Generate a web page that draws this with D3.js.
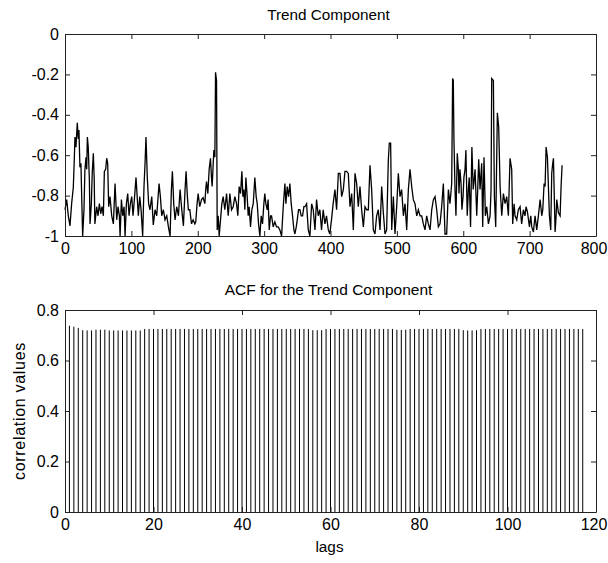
<!DOCTYPE html>
<html><head><meta charset="utf-8">
<script src="https://cdn.jsdelivr.net/npm/d3@7"></script>
<style>
html,body{margin:0;padding:0;background:#fff;}
svg{display:block;}
text{font-family:"Liberation Sans",Arial,sans-serif;fill:#000;}
</style></head>
<body>
<svg id="chart" width="608" height="563"></svg>
<script>
// ---------- DATA ----------
const trendTitle = "Trend Component";
const acfTitle = "ACF for the Trend Component";
const acfXLabel = "lags";
const acfYLabel = "correlation values";

const trendXTicks = [0,100,200,300,400,500,600,700,800];
const trendXTickLabels = ["0","100","200","300","400","500","600","700","800"];
const trendYTicks = [0,-0.2,-0.4,-0.6,-0.8,-1];
const trendYTickLabels = ["0","-0.2","-0.4","-0.6","-0.8","-1"];

const acfXTicks = [0,20,40,60,80,100,120];
const acfXTickLabels = ["0","20","40","60","80","100","120"];
const acfYTicks = [0,0.2,0.4,0.6,0.8];
const acfYTickLabels = ["0","0.2","0.4","0.6","0.8"];

// trend component: [sample index, value]
const trendSeries = [
[0,-0.87],[2.5,-0.82],[5,-0.90],[7.5,-0.95],[10,-0.84],[12.5,-0.76],[14,-0.62],[15,-0.51],[16.5,-0.56],[18.5,-0.44],
[20,-0.52],[21,-0.475],[22.5,-0.66],[24,-0.64],[25.5,-0.85],[26.6,-1.0],[28.6,-0.87],[30,-0.67],[31.7,-0.61],[32.7,-0.67],
[33.7,-0.51],[35,-0.56],[36.7,-0.72],[37.7,-0.94],[39.7,-0.84],[41,-0.69],[42.7,-0.59],[44,-0.72],[45,-0.94],[47.7,-0.855],
[49.7,-0.90],[51.8,-0.84],[53.8,-0.89],[55.8,-0.855],[57.8,-0.90],[59.3,-0.68],[61.3,-0.67],[62.8,-0.615],[64.3,-0.64],[65.8,-0.855],
[67.8,-0.805],[70.4,-0.90],[72.9,-0.94],[75.4,-0.74],[77.9,-0.92],[79.9,-0.855],[81.9,-0.90],[83,-1.0],[85,-0.82],[87,-0.90],
[89,-0.855],[90.5,-1.0],[92.5,-0.84],[94.5,-0.79],[96.5,-0.90],[98.5,-0.84],[100.5,-0.805],[102.5,-0.90],[104.5,-0.82],[107,-0.71],
[109,-0.82],[110.5,-0.90],[112.6,-0.805],[114.6,-0.87],[117,-1.0],[119,-0.755],[120.6,-0.64],[122,-0.51],[123,-0.61],[124,-0.71],
[126,-0.84],[128,-0.87],[130.7,-0.805],[133,-0.945],[135.7,-0.87],[138.2,-0.90],[141.7,-0.74],[143.7,-0.805],[145.7,-0.90],[148.2,-0.87],
[150.7,-0.92],[153.3,-0.90],[155.8,-0.955],[158.3,-1.0],[160.3,-0.77],[161.8,-0.68],[163.8,-0.84],[165.8,-0.92],[168.3,-0.855],[170.9,-0.90],
[173.4,-0.77],[175.9,-0.87],[178.4,-0.95],[180.9,-0.77],[182.4,-0.68],[184.4,-0.805],[185.9,-0.87],[188,-0.87],[190.6,-0.94],[193,-0.92],
[195.6,-0.94],[197,-0.93],[199,-0.84],[200.6,-0.79],[203,-0.855],[205.7,-0.82],[208,-0.81],[210.7,-0.84],[212,-0.77],[213.2,-0.73],
[215.2,-0.79],[217.2,-0.67],[219.2,-0.615],[220.7,-0.71],[221.7,-0.755],[223.3,-0.64],[224.3,-0.575],[225.8,-0.61],[226.8,-0.19],[228.3,-0.23],
[229.3,-0.97],[230.8,-0.90],[232.3,-1.0],[234.3,-0.92],[236.3,-0.84],[238.3,-0.805],[240.8,-0.87],[243.4,-0.79],[245.9,-0.90],[248.4,-0.79],
[250.9,-0.87],[253.4,-0.855],[255.9,-0.805],[258.4,-0.84],[260.4,-0.90],[262.4,-0.755],[264.5,-0.79],[266.5,-0.68],[268,-0.805],[269.5,-0.77],
[271,-0.87],[272.5,-0.71],[274.5,-0.805],[276,-0.90],[277.5,-0.855],[279.5,-0.955],[281.5,-0.87],[283.6,-0.84],[286,-0.71],[288,-0.805],
[289.6,-0.84],[291.6,-0.94],[293.6,-1.0],[295.6,-0.90],[297.6,-0.94],[299.6,-0.84],[301,-0.79],[302.6,-0.84],[304.7,-0.87],[306,-0.82],
[307.7,-0.97],[309.7,-0.90],[311.2,-0.90],[313.7,-0.955],[316.2,-0.93],[318.7,-0.955],[321.2,-0.955],[323.7,-0.97],[326.3,-1.0],[328.8,-0.855],
[331.3,-0.74],[332.8,-0.84],[334.8,-0.755],[336.8,-0.805],[338.8,-0.74],[340.8,-0.84],[342.8,-0.90],[344.9,-0.97],[346.4,-0.99],[348.4,-0.955],
[349.9,-0.92],[351.9,-0.87],[353.9,-0.87],[355.9,-0.90],[357.9,-0.90],[359.9,-0.855],[361.4,-0.855],[364,-0.84],[366.5,-0.97],[369,-1.0],
[371.6,-0.84],[374,-0.87],[376.6,-0.97],[379,-0.82],[381.5,-0.90],[384,-0.87],[386.5,-0.97],[389,-0.87],[391.6,-0.94],[394,-0.90],
[396.7,-0.97],[399,-0.99],[401.5,-0.92],[404,-0.84],[406.7,-0.77],[409.2,-0.87],[411.8,-0.69],[414.3,-0.69],[416.8,-0.805],[419.3,-0.77],
[421.8,-0.68],[424.3,-0.68],[426.8,-0.69],[429.4,-0.855],[431.9,-0.79],[434.4,-0.97],[436.9,-0.69],[439.4,-0.74],[441.9,-0.855],[444.4,-0.755],
[446.9,-0.87],[449.5,-0.955],[452,-0.855],[454.5,-0.87],[457,-0.87],[459.5,-0.65],[462,-0.77],[464.5,-0.97],[467,-0.99],[469.5,-0.90],
[472,-0.87],[474.6,-0.97],[477.1,-0.755],[479.6,-0.885],[482.1,-0.99],[484.6,-0.97],[487.1,-0.625],[488.6,-0.54],[490.6,-0.54],[492.2,-0.97],
[494.7,-0.805],[497.2,-0.99],[499.7,-0.855],[502.2,-0.69],[504.7,-0.805],[507.2,-0.77],[509.8,-0.90],[512.3,-0.84],[514.8,-0.97],[517.3,-0.77],
[519.8,-0.67],[522.3,-0.755],[524.8,-0.82],[527.3,-0.84],[529.9,-0.90],[532.4,-0.87],[534.9,-0.90],[537.4,-0.90],[539.9,-0.94],[542.4,-0.97],
[544.9,-0.90],[547.4,-0.94],[550,-0.97],[552.5,-0.87],[555,-0.82],[557.5,-0.805],[560,-0.87],[562.5,-0.955],[565,-0.94],[567.5,-0.855],
[570,-0.74],[572.5,-0.99],[575,-0.99],[577.6,-0.77],[580,-0.84],[582.6,-0.74],[584,-0.22],[585,-0.23],[586,-0.525],[587.6,-0.77],
[589,-0.90],[591,-0.59],[592.6,-0.67],[593.6,-0.79],[595,-0.67],[596.7,-0.74],[598,-0.87],[599.7,-0.805],[601,-0.71],[602.7,-0.67],
[604,-0.575],[606,-0.90],[607.7,-0.77],[609,-0.71],[611,-0.955],[613,-0.56],[615,-0.77],[616.8,-0.71],[617.8,-0.67],[620.3,-0.90],
[621.8,-0.77],[623.3,-0.62],[625.3,-0.77],[627.8,-0.64],[629.3,-0.955],[631.3,-0.61],[633.3,-0.90],[635.4,-0.855],[637.9,-0.94],[640.4,-0.90],
[641.9,-0.77],[642.9,-0.22],[645.4,-0.23],[646.9,-0.805],[648.9,-0.955],[651.4,-0.39],[653.4,-0.46],[655.5,-0.755],[658,-0.90],[660.5,-0.79],
[663,-0.84],[665.5,-0.805],[668,-0.90],[670.5,-0.615],[673,-0.67],[674.5,-0.94],[676.6,-0.84],[678,-0.90],[680.6,-0.92],[683,-0.87],
[685.6,-0.855],[688,-0.94],[690.6,-0.87],[693,-0.90],[694.6,-0.855],[696.7,-0.88],[699.7,-0.955],[701.7,-0.90],[703.2,-0.955],[705.7,-0.98],
[708.2,-0.90],[710.7,-0.97],[713.2,-0.90],[715.8,-0.82],[718.3,-0.90],[719.8,-0.87],[721.8,-0.74],[723.3,-0.755],[724.8,-0.56],[726.8,-0.61],
[728.3,-0.755],[729.8,-0.90],[731.8,-0.97],[733.3,-0.69],[734.8,-0.64],[735.9,-0.615],[737.4,-0.84],[738.4,-0.98],[739.9,-0.90],[740.9,-0.82],
[743.4,-0.885],[745.9,-0.90],[747.4,-0.755],[748.9,-0.65]
];

// ACF values for lags 1..117
const acfLags = d3.range(1, 118);
const acfValues = [
0.738,0.734,0.729,0.720,0.719,0.719,0.722,0.722,0.722,0.719,
0.719,0.719,0.719,0.719,0.719,0.719,0.719,0.725,0.725,0.725,
0.725,0.725,0.725,0.725,0.725,0.725,0.725,0.725,0.725,0.725,
0.725,0.725,0.725,0.725,0.725,0.725,0.725,0.725,0.725,0.725,
0.725,0.725,0.725,0.725,0.725,0.725,0.725,0.725,0.725,0.725,
0.725,0.725,0.725,0.725,0.725,0.720,0.720,0.720,0.725,0.725,
0.725,0.725,0.725,0.725,0.725,0.725,0.725,0.725,0.725,0.725,
0.725,0.725,0.725,0.725,0.722,0.721,0.722,0.725,0.725,0.725,
0.725,0.725,0.725,0.725,0.725,0.725,0.725,0.725,0.725,0.720,
0.719,0.719,0.720,0.725,0.725,0.725,0.725,0.725,0.725,0.725,
0.725,0.725,0.725,0.725,0.725,0.725,0.725,0.725,0.725,0.725,
0.725,0.725,0.725,0.725,0.725,0.725,0.725
];

// ---------- LAYOUT ----------
const W = 608;
const svg = d3.select("#chart");
const L = 65, R = 596;
const top1 = 34, bot1 = 236;
const top2 = 310, bot2 = 512;
const tickLen = 5;
const axisColor = "#222";

function boxAxes(g, x, y, xt, xl, yt, yl, t, b) {
  // inward ticks on four sides using d3 axes
  const gx = g.append("g").attr("transform", `translate(0,${b})`)
    .call(d3.axisBottom(x).tickValues(xt).tickFormat((d,i)=>xl[i]).tickSizeInner(-tickLen).tickSizeOuter(0).tickPadding(7));
  g.append("g").attr("transform", `translate(0,${t})`)
    .call(d3.axisTop(x).tickValues(xt).tickFormat("").tickSizeInner(-tickLen).tickSizeOuter(0));
  g.append("g").attr("transform", `translate(${L},0)`)
    .call(d3.axisLeft(y).tickValues(yt).tickFormat((d,i)=>yl[i]).tickSizeInner(-tickLen).tickSizeOuter(0).tickPadding(6));
  g.append("g").attr("transform", `translate(${R},0)`)
    .call(d3.axisRight(y).tickValues(yt).tickFormat("").tickSizeInner(-tickLen).tickSizeOuter(0));
  g.selectAll(".domain").attr("stroke", axisColor);
  g.selectAll(".tick line").attr("stroke", axisColor);
  g.selectAll(".tick text").attr("font-size", 16).attr("font-family", '"Liberation Sans",Arial,sans-serif').attr("fill","#000");
  // keep the last x label inside the picture
  gx.selectAll(".tick").each(function(d) {
    const tx = d3.select(this).select("text");
    const bb = tx.node().getBBox();
    const right = x(d) + bb.x + bb.width;
    if (right > W - 1) tx.attr("dx", (W - 1 - right) + "px");
  });
}

// ---------- TOP: trend component ----------
const x1 = d3.scaleLinear().domain([0, 800]).range([L, R]);
const y1 = d3.scaleLinear().domain([-1, 0]).range([bot1, top1]);
const g1 = svg.append("g");
g1.append("path").datum(trendSeries)
  .attr("fill","none").attr("stroke","#000").attr("stroke-width",1.3).attr("stroke-linejoin","miter")
  .attr("d", d3.line().x(d=>x1(d[0])).y(d=>y1(d[1])));
boxAxes(g1, x1, y1, trendXTicks, trendXTickLabels, trendYTicks, trendYTickLabels, top1, bot1);
g1.append("text").attr("x", (L+R)/2 - 2).attr("y", 20).attr("text-anchor","middle").attr("font-size",15.3).text(trendTitle);

// ---------- BOTTOM: ACF ----------
const x2 = d3.scaleLinear().domain([0, 120]).range([L, R]);
const y2 = d3.scaleLinear().domain([0, 0.8]).range([bot2, top2]);
const g2 = svg.append("g");
g2.selectAll("line.stem").data(acfLags).enter().append("line").attr("class","stem")
  .attr("x1", d=>x2(d)).attr("x2", d=>x2(d))
  .attr("y1", y2(0)).attr("y2", (d,i)=>y2(acfValues[i]))
  .attr("stroke","#000").attr("stroke-width",1);
boxAxes(g2, x2, y2, acfXTicks, acfXTickLabels, acfYTicks, acfYTickLabels, top2, bot2);
g2.append("text").attr("x", (L+R)/2 - 2).attr("y", 295).attr("text-anchor","middle").attr("font-size",15.5).text(acfTitle);
g2.append("text").attr("x", (L+R)/2 - 1).attr("y", 552).attr("text-anchor","middle").attr("font-size",15.3).text(acfXLabel);
g2.append("text").attr("transform", `translate(25,${(top2+bot2)/2}) rotate(-90)`)
  .attr("text-anchor","middle").attr("font-size",16).attr("letter-spacing","0.7px").text(acfYLabel);
</script>
</body></html>
